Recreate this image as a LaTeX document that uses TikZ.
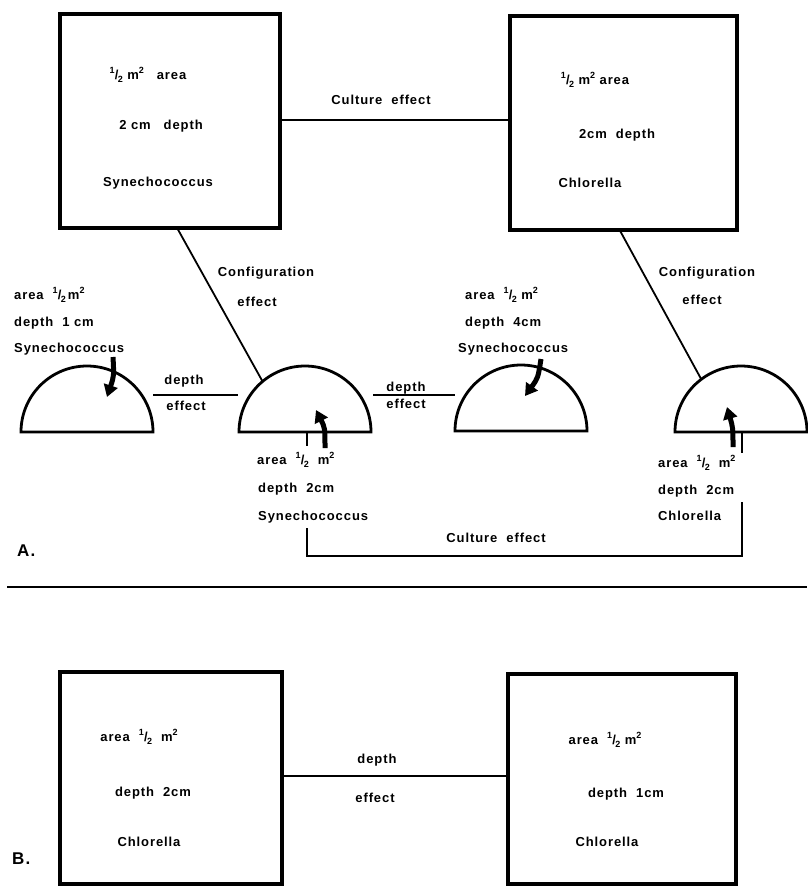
\documentclass[tikz,border=0pt]{standalone}
\usepackage{fontspec}
\newfontfamily\lblfont[LetterSpace=7]{Liberation Sans}
\newfontfamily\fracfont{Liberation Sans}
\usetikzlibrary{arrows.meta,calc}
\newcommand{\lbl}{\lblfont\bfseries\fontsize{13}{15}\selectfont}
\newcommand{\panellbl}{\lblfont\bfseries\fontsize{17}{19}\selectfont}
\newcommand{\halfm}{{\fracfont\bfseries\raisebox{0.8ex}{\fontsize{9}{9}\selectfont 1}\kern0.02em/\kern-0.06em\raisebox{-0.45ex}{\fontsize{9}{9}\selectfont 2}}}
\newcommand{\msq}{{\fracfont\bfseries\raisebox{0.75ex}{\fontsize{9}{9}\selectfont 2}}}
\begin{document}
\begin{tikzpicture}[x=1pt,y=-1pt,
  box/.style={draw,line width=3.2pt,inner sep=0pt},
  txt/.style={font=\lbl,inner sep=0pt,anchor=base},
  txtl/.style={font=\lbl,inner sep=0pt,anchor=base west},
  conn/.style={line width=1.8pt},
  semi/.style={line width=2.8pt},
  bigarrow/.style={line width=5pt,-{Triangle[length=12pt,width=14pt]}},
  tick/.style={line width=1.6pt}]
\useasboundingbox (0,0) rectangle (807,886);

% ---- Part A boxes
\node[box,minimum width=220pt,minimum height=214pt] (A1) at (170,121) {};
\node[box,minimum width=227pt,minimum height=214pt] (A2) at (623.5,123) {};
\node[txt] (a1t1) at (148,79) {\halfm\ m\msq\quad area};
\node[txt] (a1t2) at (161,129) {2 cm\quad depth};
\node[txt] (a1t3) at (158,186) {Synechococcus};
\node[txt] (a2t1) at (595,84) {\halfm\ m\msq\ area};
\node[txt] (a2t2) at (617,138) {2cm\ \ depth};
\node[txt] (a2t3) at (590,187) {Chlorella};

% top culture effect
\draw[conn] (A1.east |- 0,120) coordinate (ce1) -- (A2.west |- 0,120) coordinate (ce2);
\node[txt] (cetop) at (381,104) {Culture\ \ effect};

% ---- semicircles
\coordinate (s1) at (87,432);
\coordinate (s2) at (305,432);
\coordinate (s3) at (521,431);
\coordinate (s4) at (741,432);
\foreach \s in {s1,s2,s3,s4}{
  \draw[semi] ($(\s)+(-66,0)$) arc[start angle=180,end angle=0,radius=66pt] -- cycle;
}

% configuration connectors
\coordinate (cf1a) at ($(A1.south)+(8,0)$);
\coordinate (cf1b) at ($(s2)+(130:66pt)$);
\draw[conn] (cf1a) -- (cf1b);
\node[txt] (cf1l1) at (266,276) {Configuration};
\node[txt] (cf1l2) at (257,306) {effect};
\coordinate (cf2a) at ($(A2.south)+(-3,0)$);
\coordinate (cf2b) at ($(s4)+(127:66pt)$);
\draw[conn] (cf2a) -- (cf2b);
\node[txt] (cf2l1) at (707,276) {Configuration};
\node[txt] (cf2l2) at (702,304) {effect};

% depth effect connectors
\coordinate (d1a) at (153,395);
\coordinate (d1b) at (238,395);
\draw[conn] (d1a) -- (d1b);
\node[txt] (d1l1) at (184,384) {depth};
\node[txt] (d1l2) at (186,410) {effect};
\coordinate (d2a) at (373,395);
\coordinate (d2b) at (455,395);
\draw[conn] (d2a) -- (d2b);
\node[txt] (d2l1) at (406,391) {depth};
\node[txt] (d2l2) at (406,408) {effect};

% semicircle labels
\node[txtl] (s1t1) at (14,299) {area\ \ \halfm\,m\msq};
\node[txtl] (s1t2) at (14,326) {depth\ \ 1 cm};
\node[txtl] (s1t3) at (14,352) {Synechococcus};
\node[txtl] (s3t1) at (465,299) {area\ \ \halfm\ m\msq};
\node[txtl] (s3t2) at (465,326) {depth\ \ 4cm};
\node[txtl] (s3t3) at (458,352) {Synechococcus};
\node[txtl] (s2t1) at (257,464) {area\ \ \halfm\ \ m\msq};
\node[txtl] (s2t2) at (258,492) {depth\ \ 2cm};
\node[txtl] (s2t3) at (258,520) {Synechococcus};
\node[txtl] (s4t1) at (658,467) {area\ \ \halfm\ \ m\msq};
\node[txtl] (s4t2) at (658,494) {depth\ \ 2cm};
\node[txtl] (s4t3) at (658,520) {Chlorella};

% thick arrows
\coordinate (ar1a) at (113,357); \coordinate (ar1b) at (107,397);
\draw[bigarrow] (ar1a) .. controls (114,376) .. (ar1b);
\coordinate (ar2a) at (325,448); \coordinate (ar2b) at (316,410);
\draw[bigarrow] (ar2a) .. controls (325,428) .. (ar2b);
\coordinate (ar3a) at (541,359); \coordinate (ar3b) at (525,396);
\draw[bigarrow] (ar3a) .. controls (538,378) .. (ar3b);
\coordinate (ar4a) at (733,447); \coordinate (ar4b) at (727,407);
\draw[bigarrow] (ar4a) .. controls (733,428) .. (ar4b);

% thin ticks
\coordinate (tk1a) at (307,432); \coordinate (tk1b) at (307,446);
\draw[tick] (tk1a) -- (tk1b);
\coordinate (tk2a) at (742,432); \coordinate (tk2b) at (742,453);
\draw[tick] (tk2a) -- (tk2b);

% bottom culture effect
\coordinate (cb1) at (307,528);
\coordinate (cb2) at (742,502);
\draw[conn] (cb1) -- ++(0,28) -| (cb2);
\node[txt] (cebot) at (496,542) {Culture\ \ effect};

\node[font=\panellbl,inner sep=0pt,anchor=base west] (labA) at (17,556) {A.};

% separator
\coordinate (sepL) at (7,587);
\coordinate (sepR) at (807,587);
\draw[line width=2.2pt] (sepL) -- (sepR);

% ---- Part B
\node[box,minimum width=222pt,minimum height=212pt] (B1) at (171,778) {};
\node[box,minimum width=228pt,minimum height=210pt] (B2) at (622,779) {};
\draw[conn] (B1.east |- 0,776) -- (B2.west |- 0,776);
\node[txt] (bl1) at (377,763) {depth};
\node[txt] (bl2) at (375,802) {effect};
\node[txt] (b1t1) at (139,741) {area\ \ \halfm\ \ m\msq};
\node[txt] (b1t2) at (153,796) {depth\ \ 2cm};
\node[txt] (b1t3) at (149,846) {Chlorella};
\node[txt] (b2t1) at (605,744) {area\ \ \halfm\ m\msq};
\node[txt] (b2t2) at (626,797) {depth\ \ 1cm};
\node[txt] (b2t3) at (607,846) {Chlorella};
\node[font=\panellbl,inner sep=0pt,anchor=base west] (labB) at (12,864) {B.};
\end{tikzpicture}
\end{document}
